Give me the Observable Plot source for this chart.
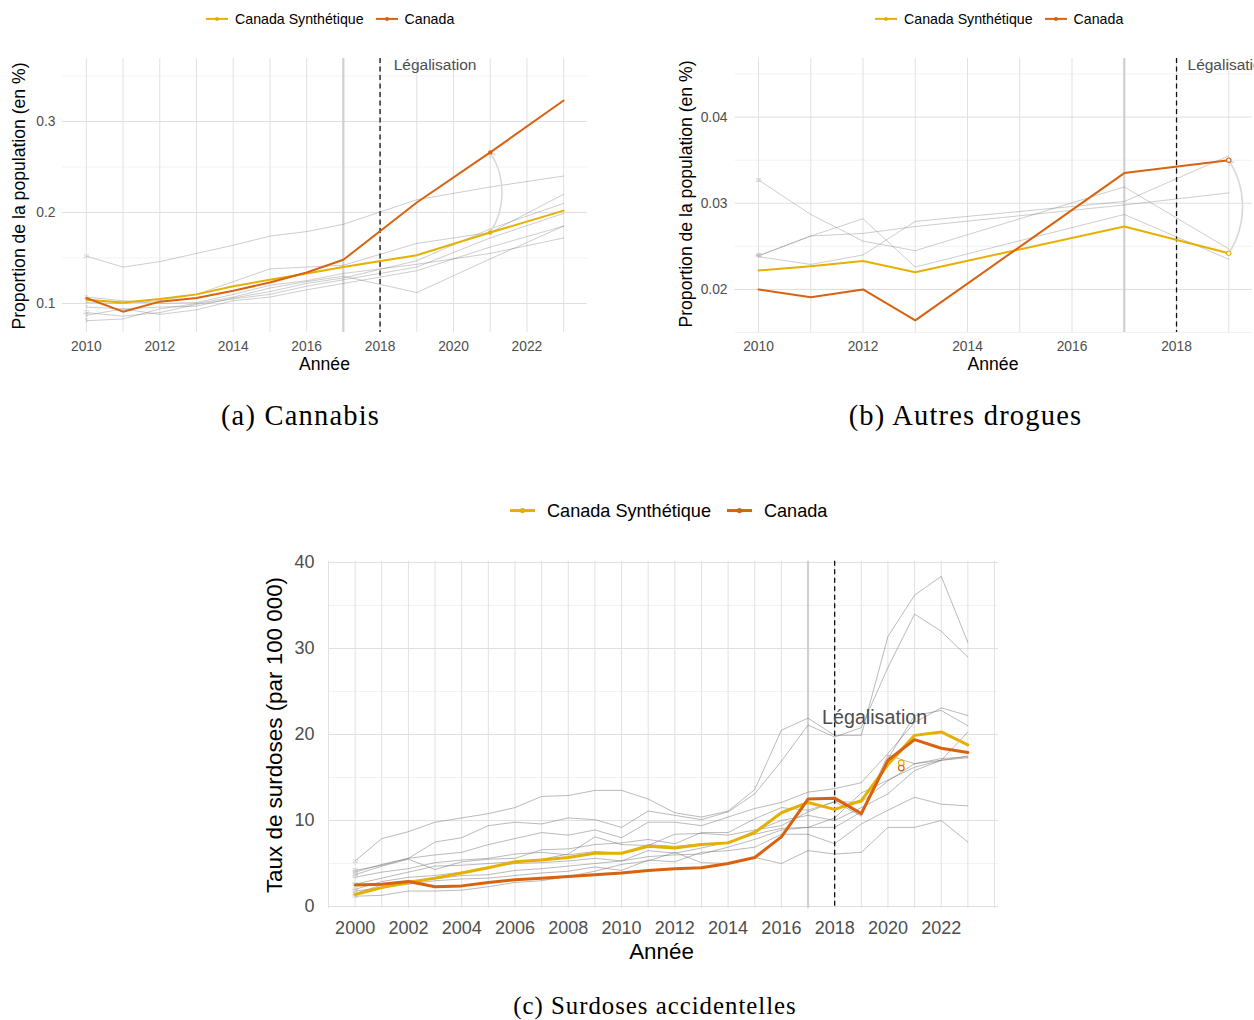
<!DOCTYPE html>
<html><head><meta charset="utf-8">
<script src="https://cdn.jsdelivr.net/npm/d3@7"></script>
<script src="https://cdn.jsdelivr.net/npm/@observablehq/plot@0.6"></script>
<style>
html,body{margin:0;padding:0;background:#fff;}
body{width:1254px;height:1020px;overflow:hidden;position:relative;font-family:"Liberation Sans",Arial,Helvetica,sans-serif;}
.abs{position:absolute;white-space:nowrap;line-height:1;}
.c{transform:translate(-50%,-50%);}
.rot{transform:translate(-50%,-50%) rotate(-90deg);}
.cap{font-family:"Liberation Serif","Times New Roman",serif;font-size:28.5px;letter-spacing:1.2px;color:#000;}
.cap2{font-family:"Liberation Serif","Times New Roman",serif;font-size:24.8px;letter-spacing:1.0px;color:#000;}
</style></head><body>
<script>
// ---------- shared ----------
const legendLabels = ["Canada Synthétique", "Canada"];
const legendColors = ["#E5B000", "#D9620F"];
const annotationText = "Légalisation";
const treatmentYear = 2017;
const legalisationYear = 2018;

// ---------- (a) Cannabis ----------
const yearsA = [2010, 2011, 2012, 2013, 2014, 2015, 2016, 2017, 2019, 2021, 2023];
const canadaA = [0.106, 0.091, 0.102, 0.106, 0.114, 0.123, 0.134, 0.148, 0.211, 0.266, 0.323];
const syntheticA = [0.104, 0.101, 0.105, 0.110, 0.119, 0.126, 0.133, 0.140, 0.153, 0.178, 0.202];
const donorIdsA = ["14", "3", "7", "22", "9", "5", "11"];
const donorA1 = [0.152, 0.140, 0.146, 0.155, 0.164, 0.174, 0.179, 0.187, 0.214, 0.228, 0.240];
const donorA2 = [0.101, 0.100, 0.103, 0.110, 0.124, 0.138, 0.140, 0.142, 0.166, 0.178, 0.220];
const donorA3 = [0.096, 0.094, 0.096, 0.097, 0.106, 0.113, 0.122, 0.128, 0.147, 0.182, 0.210];
const donorA4 = [0.090, 0.086, 0.090, 0.099, 0.105, 0.110, 0.119, 0.126, 0.140, 0.172, 0.199];
const donorA5 = [0.087, 0.094, 0.088, 0.093, 0.103, 0.107, 0.115, 0.122, 0.136, 0.162, 0.185];
const donorA6 = [0.081, 0.083, 0.094, 0.100, 0.107, 0.117, 0.124, 0.130, 0.112, 0.149, 0.185];
const donorA7 = [0.107, 0.103, 0.100, 0.101, 0.110, 0.120, 0.125, 0.133, 0.143, 0.155, 0.172];
const highlightYearA = 2021;
const xTicksA = [2010, 2012, 2014, 2016, 2018, 2020, 2022];
const xGridA = [2010, 2011, 2012, 2013, 2014, 2015, 2016, 2017, 2018, 2019, 2020, 2021, 2022, 2023];
const yTicksA = [0.1, 0.2, 0.3];
const yMinorA = [0.15, 0.25, 0.35];

// ---------- (b) Autres drogues ----------
const yearsB = [2010, 2011, 2012, 2013, 2017, 2019];
const canadaB = [0.0200, 0.0191, 0.0200, 0.0164, 0.0335, 0.0350];
const syntheticB = [0.0222, 0.0227, 0.0233, 0.0220, 0.0273, 0.0242];
const donorIdsB = ["26", "46", "48", "45"];
const donorB1 = [0.0327, 0.0287, 0.0256, 0.0245, 0.0319, 0.0247];
const donorB2 = [0.0239, 0.0262, 0.0282, 0.0226, 0.0287, 0.0235];
const donorB3 = [0.0239, 0.0262, 0.0265, 0.0273, 0.0298, 0.0312];
const donorB4 = [0.0238, 0.0229, 0.0240, 0.0279, 0.0302, 0.0355];
const highlightYearB = 2019;
const xTicksB = [2010, 2012, 2014, 2016, 2018];
const xGridB = [2010, 2011, 2012, 2013, 2014, 2015, 2016, 2017, 2018, 2019];
const yTicksB = [0.02, 0.03, 0.04];
const yMinorB = [0.015, 0.025, 0.035, 0.045];

// ---------- (c) Surdoses accidentelles ----------
const yearsC = [2000, 2001, 2002, 2003, 2004, 2005, 2006, 2007, 2008, 2009, 2010, 2011, 2012, 2013, 2014, 2015, 2016, 2017, 2018, 2019, 2020, 2021, 2022, 2023];
const canadaC = [2.5, 2.6, 2.9, 2.3, 2.4, 2.8, 3.1, 3.3, 3.5, 3.7, 3.9, 4.2, 4.4, 4.5, 5.0, 5.7, 8.1, 12.5, 12.6, 10.8, 17.0, 19.4, 18.4, 17.9];
const syntheticC = [1.4, 2.2, 2.8, 3.3, 3.9, 4.5, 5.2, 5.4, 5.7, 6.2, 6.2, 7.0, 6.8, 7.2, 7.4, 8.6, 10.9, 12.1, 11.3, 12.3, 16.5, 19.9, 20.3, 18.8];
const donorIdsC = ["12", "35", "10", "24", "47", "59", "46", "13", "61", "11"];
const donorC1 = [5.3, 7.9, 8.7, 9.8, 10.3, 10.8, 11.5, 12.8, 12.9, 13.5, 13.5, 12.5, 10.9, 10.4, 11.1, 13.6, 20.5, 21.9, 19.9, 19.9, 31.4, 36.2, 38.4, 30.7];
const donorC2 = [4.2, 4.8, 5.6, 7.5, 8.0, 9.4, 9.8, 9.6, 10.3, 10.1, 9.2, 11.1, 10.6, 10.1, 11.0, 13.1, 16.9, 21.1, 19.7, 20.8, 27.8, 34.0, 32.0, 29.0];
const donorC3 = [4.0, 4.9, 5.6, 6.0, 6.3, 7.2, 7.9, 8.6, 8.3, 8.9, 8.0, 9.8, 9.8, 9.4, 10.4, 11.4, 12.1, 13.3, 13.7, 14.4, 17.8, 21.4, 23.1, 22.2];
const donorC4 = [3.7, 4.7, 5.5, 4.3, 5.2, 5.5, 5.6, 6.6, 6.7, 7.2, 7.4, 7.8, 7.3, 8.6, 8.6, 10.2, 11.5, 11.2, 12.2, 10.5, 17.2, 22.2, 22.8, 21.0];
const donorC5 = [3.4, 4.0, 4.4, 5.1, 5.4, 5.6, 6.1, 6.3, 6.0, 6.4, 6.2, 7.2, 7.0, 7.3, 7.4, 8.8, 10.0, 10.6, 10.0, 11.5, 13.1, 15.8, 17.0, 20.3];
const donorC6 = [2.6, 3.3, 4.0, 4.7, 4.8, 5.0, 5.2, 5.5, 6.1, 8.1, 7.2, 7.1, 8.4, 8.5, 8.3, 8.9, 9.4, 11.0, 12.2, 12.1, 14.6, 16.6, 17.2, 17.4];
const donorC7 = [2.0, 2.9, 3.4, 3.6, 4.0, 4.6, 5.0, 5.1, 5.3, 5.6, 5.3, 6.5, 6.2, 6.8, 7.5, 8.4, 9.1, 9.2, 9.2, 11.0, 17.6, 16.6, 17.0, 17.5];
const donorC8 = [1.8, 2.2, 2.6, 3.0, 3.2, 3.3, 3.6, 3.9, 4.1, 4.6, 4.2, 5.4, 5.2, 6.3, 6.5, 6.9, 8.4, 8.4, 7.3, 9.6, 11.2, 12.7, 11.9, 11.7];
const donorC9 = [1.2, 1.3, 1.8, 1.8, 1.9, 2.3, 2.8, 3.0, 3.5, 4.1, 4.9, 5.3, 6.3, 5.1, 5.0, 5.7, 5.0, 6.5, 6.1, 6.3, 9.2, 9.2, 10.0, 7.5];
const donorC10 = [1.5, 2.5, 3.0, 3.2, 3.6, 3.7, 4.2, 4.4, 4.7, 5.0, 5.3, 5.8, 6.0, 6.1, 6.9, 7.8, 8.9, 9.2, 10.3, 13.2, 14.7, 16.2, 17.0, 17.3];
const markerYearC = 2020.5;
const markerSyntheticC = 16.7;
const markerCanadaC = 16.1;
const xTicksC = [2000, 2002, 2004, 2006, 2008, 2010, 2012, 2014, 2016, 2018, 2020, 2022];
const xGridC = [1999, 2000, 2001, 2002, 2003, 2004, 2005, 2006, 2007, 2008, 2009, 2010, 2011, 2012, 2013, 2014, 2015, 2016, 2017, 2018, 2019, 2020, 2021, 2022, 2023, 2024];
const yTicksC = [0, 10, 20, 30, 40];
const yMinorC = [5, 15, 25, 35];

const FONT = '"Liberation Sans", Arial, Helvetica, sans-serif';

function toRows(years, values, id) {
  return years.map((year, i) => ({year, value: values[i], id}));
}

function makePanel(cfg) {
  const donorRows = cfg.donors.flatMap((vals, k) => toRows(cfg.years, vals, cfg.donorIds[k]));
  const firstRows = cfg.donors.map((vals, k) => ({year: cfg.years[0], value: vals[0], id: cfg.donorIds[k]}));
  const synthRows = toRows(cfg.years, cfg.synthetic, "s");
  const canadaRows = toRows(cfg.years, cfg.canada, "c");
  const marks = [
    Plot.ruleY(cfg.yMinor, {stroke: "#eeeeee", strokeWidth: 0.8}),
    Plot.ruleY(cfg.yTicks, {stroke: "#dfdfdf", strokeWidth: 1}),
    Plot.ruleX(cfg.xGrid, {stroke: "#e1e1e1", strokeWidth: 1}),
    Plot.ruleX([treatmentYear], {stroke: "#d0d0d0", strokeWidth: 2.2}),
    Plot.line(donorRows, {x: "year", y: "value", z: "id", stroke: "#707070", strokeOpacity: cfg.donorOpacity, strokeWidth: 0.65}),
    Plot.text(firstRows, {x: "year", y: "value", text: "id", fontSize: cfg.idSize, fill: "#c4c4c4"}),
    Plot.ruleX([legalisationYear], {stroke: "#111", strokeWidth: 1.3, strokeDasharray: "5,3.5"}),
    Plot.line(synthRows, {x: "year", y: "value", stroke: legendColors[0], strokeWidth: cfg.mainWidth}),
    Plot.line(canadaRows, {x: "year", y: "value", stroke: legendColors[1], strokeWidth: cfg.mainWidth}),
    ...cfg.extra(),
    Plot.text([annotationText], {x: cfg.annX, y: cfg.annY, text: d => d, textAnchor: cfg.annAnchor, lineAnchor: "middle", fontSize: cfg.annSize, fill: "#4d4d4d"}),
    Plot.axisX(cfg.xTicks, {anchor: "bottom", tickSize: 0, tickPadding: cfg.xPad, tickFormat: d => String(d), label: null, fontSize: cfg.tickSize, color: "#4d4d4d"}),
    Plot.axisY(cfg.yTicks, {anchor: "left", tickSize: 0, tickPadding: cfg.yPad, tickFormat: cfg.yFormat, label: null, fontSize: cfg.tickSize, color: "#4d4d4d"})
  ];
  const chart = Plot.plot({
    width: cfg.width, height: cfg.height,
    marginLeft: cfg.ml, marginRight: cfg.mr, marginTop: cfg.mt, marginBottom: cfg.mb,
    style: {fontFamily: FONT, background: "transparent", overflow: "visible"},
    x: {domain: cfg.xDomain},
    y: {domain: cfg.yDomain},
    marks
  });
  chart.style.position = "absolute";
  chart.style.left = cfg.left + "px";
  chart.style.top = cfg.top + "px";
  chart.style.maxWidth = "none";
  document.body.appendChild(chart);
}

function addText(txt, x, y, cls, style) {
  const d = document.createElement("div");
  d.className = "abs " + cls;
  d.textContent = txt;
  d.style.left = x + "px";
  d.style.top = y + "px";
  Object.assign(d.style, style || {});
  document.body.appendChild(d);
}

function addLegend(left, cy, fs, sw, lw, r, gapText, gapItem) {
  const d = document.createElement("div");
  d.className = "abs";
  Object.assign(d.style, {left: left + "px", top: cy + "px", transform: "translateY(-50%)", display: "flex", alignItems: "center", fontSize: fs + "px", color: "#000"});
  legendLabels.forEach((lab, i) => {
    const h = 2 * r + 4;
    const sv = document.createElementNS("http://www.w3.org/2000/svg", "svg");
    sv.setAttribute("width", sw); sv.setAttribute("height", h);
    sv.style.display = "block";
    sv.innerHTML = `<line x1="0" x2="${sw}" y1="${h / 2}" y2="${h / 2}" stroke="${legendColors[i]}" stroke-width="${lw}"/><circle cx="${sw / 2}" cy="${h / 2}" r="${r}" fill="${legendColors[i]}"/>`;
    if (i > 0) sv.style.marginLeft = gapItem + "px";
    const t = document.createElement("span");
    t.textContent = lab;
    t.style.marginLeft = gapText + "px";
    d.appendChild(sv); d.appendChild(t);
  });
  document.body.appendChild(d);
}

// ---------- panel (a) ----------
const iA = yearsA.indexOf(highlightYearA);
makePanel({
  left: 0, top: 40, width: 600, height: 340, ml: 62, mr: 13, mt: 18, mb: 48,
  xDomain: [2009.35, 2023.65], yDomain: [0.0681, 0.3692],
  years: yearsA, canada: canadaA, synthetic: syntheticA,
  donors: [donorA1, donorA2, donorA3, donorA4, donorA5, donorA6, donorA7], donorIds: donorIdsA, idSize: 5, donorOpacity: 0.55,
  xTicks: xTicksA, xGrid: xGridA, yTicks: yTicksA, yMinor: yMinorA,
  mainWidth: 2, tickSize: 13.8, xPad: 9, yPad: 7, yFormat: d => d.toFixed(1),
  annX: 2018.37, annY: 0.3615, annAnchor: "start", annSize: 15.5,
  extra: () => [
    Plot.arrow([{x: highlightYearA, y1: syntheticA[iA], y2: canadaA[iA]}], {x1: "x", x2: "x", y1: "y1", y2: "y2", bend: -33, stroke: "#d9d9d9", strokeWidth: 1.6, headLength: 5}),
    Plot.dot([{x: highlightYearA, y: syntheticA[iA], k: 0}, {x: highlightYearA, y: canadaA[iA], k: 1}], {x: "x", y: "y", r: 2.2, fill: d => legendColors[d.k]})
  ]
});

// ---------- panel (b) ----------
const iB = yearsB.indexOf(highlightYearB);
makePanel({
  left: 660, top: 40, width: 594, height: 340, ml: 74.5, mr: 2.2, mt: 18, mb: 48,
  xDomain: [2009.55, 2019.45], yDomain: [0.015, 0.0468],
  years: yearsB, canada: canadaB, synthetic: syntheticB,
  donors: [donorB1, donorB2, donorB3, donorB4], donorIds: donorIdsB, idSize: 5, donorOpacity: 0.55,
  xTicks: xTicksB, xGrid: xGridB, yTicks: yTicksB, yMinor: yMinorB,
  mainWidth: 2, tickSize: 13.8, xPad: 9, yPad: 7.5, yFormat: d => d.toFixed(2),
  annX: 2018.21, annY: 0.0460, annAnchor: "start", annSize: 15.5,
  extra: () => [
    Plot.arrow([{x: highlightYearB, y1: syntheticB[iB], y2: canadaB[iB]}], {x1: "x", x2: "x", y1: "y1", y2: "y2", bend: -33, stroke: "#d9d9d9", strokeWidth: 1.6, headLength: 5}),
    Plot.dot([{x: highlightYearB, y: syntheticB[iB], k: 0}, {x: highlightYearB, y: canadaB[iB], k: 1}], {x: "x", y: "y", r: 2.2, fill: "white", strokeWidth: 1.1, stroke: d => legendColors[d.k]})
  ]
});

// ---------- panel (c) ----------
makePanel({
  left: 250, top: 540, width: 760, height: 440, ml: 78, mr: 12, mt: 20.7, mb: 72,
  xDomain: [1999, 2024.15], yDomain: [-0.23, 40.15],
  years: yearsC, canada: canadaC, synthetic: syntheticC,
  donors: [donorC1, donorC2, donorC3, donorC4, donorC5, donorC6, donorC7, donorC8, donorC9, donorC10], donorIds: donorIdsC, idSize: 5, donorOpacity: 0.75,
  xTicks: xTicksC, xGrid: xGridC, yTicks: yTicksC, yMinor: yMinorC,
  mainWidth: 3, tickSize: 18, xPad: 13, yPad: 14, yFormat: d => String(d),
  annX: 2019.5, annY: 22.0, annAnchor: "middle", annSize: 19.7,
  extra: () => [
    Plot.dot([{x: markerYearC, y: markerSyntheticC, k: 0}, {x: markerYearC, y: markerCanadaC, k: 1}], {x: "x", y: "y", r: 2.8, fill: "none", strokeWidth: 1.2, stroke: d => legendColors[d.k]})
  ]
});

// ---------- legends ----------
addLegend(206, 19, 14.2, 22, 2, 2, 7, 12);
addLegend(875, 19, 14.2, 22, 2, 2, 7, 12);
addLegend(510, 511, 18.1, 25, 3, 2.6, 12, 16);

// ---------- axis titles ----------
addText("Proportion de la population (en %)", 19.5, 196, "rot", {fontSize: "17.6px", color: "#000"});
addText("Année", 324.5, 365, "c", {fontSize: "17.6px", color: "#000"});
addText("Proportion de la population (en %)", 686.7, 194, "rot", {fontSize: "17.6px", color: "#000"});
addText("Année", 993, 365, "c", {fontSize: "17.6px", color: "#000"});
addText("Taux de surdoses (par 100 000)", 275, 735, "rot", {fontSize: "22.4px", color: "#000"});
addText("Année", 661.5, 952, "c", {fontSize: "22.4px", color: "#000"});

// ---------- captions ----------
addText("(a) Cannabis", 300.5, 416, "c cap");
addText("(b) Autres drogues", 965.5, 416, "c cap");
addText("(c) Surdoses accidentelles", 655, 1006, "c cap2");
</script>
</body></html>
